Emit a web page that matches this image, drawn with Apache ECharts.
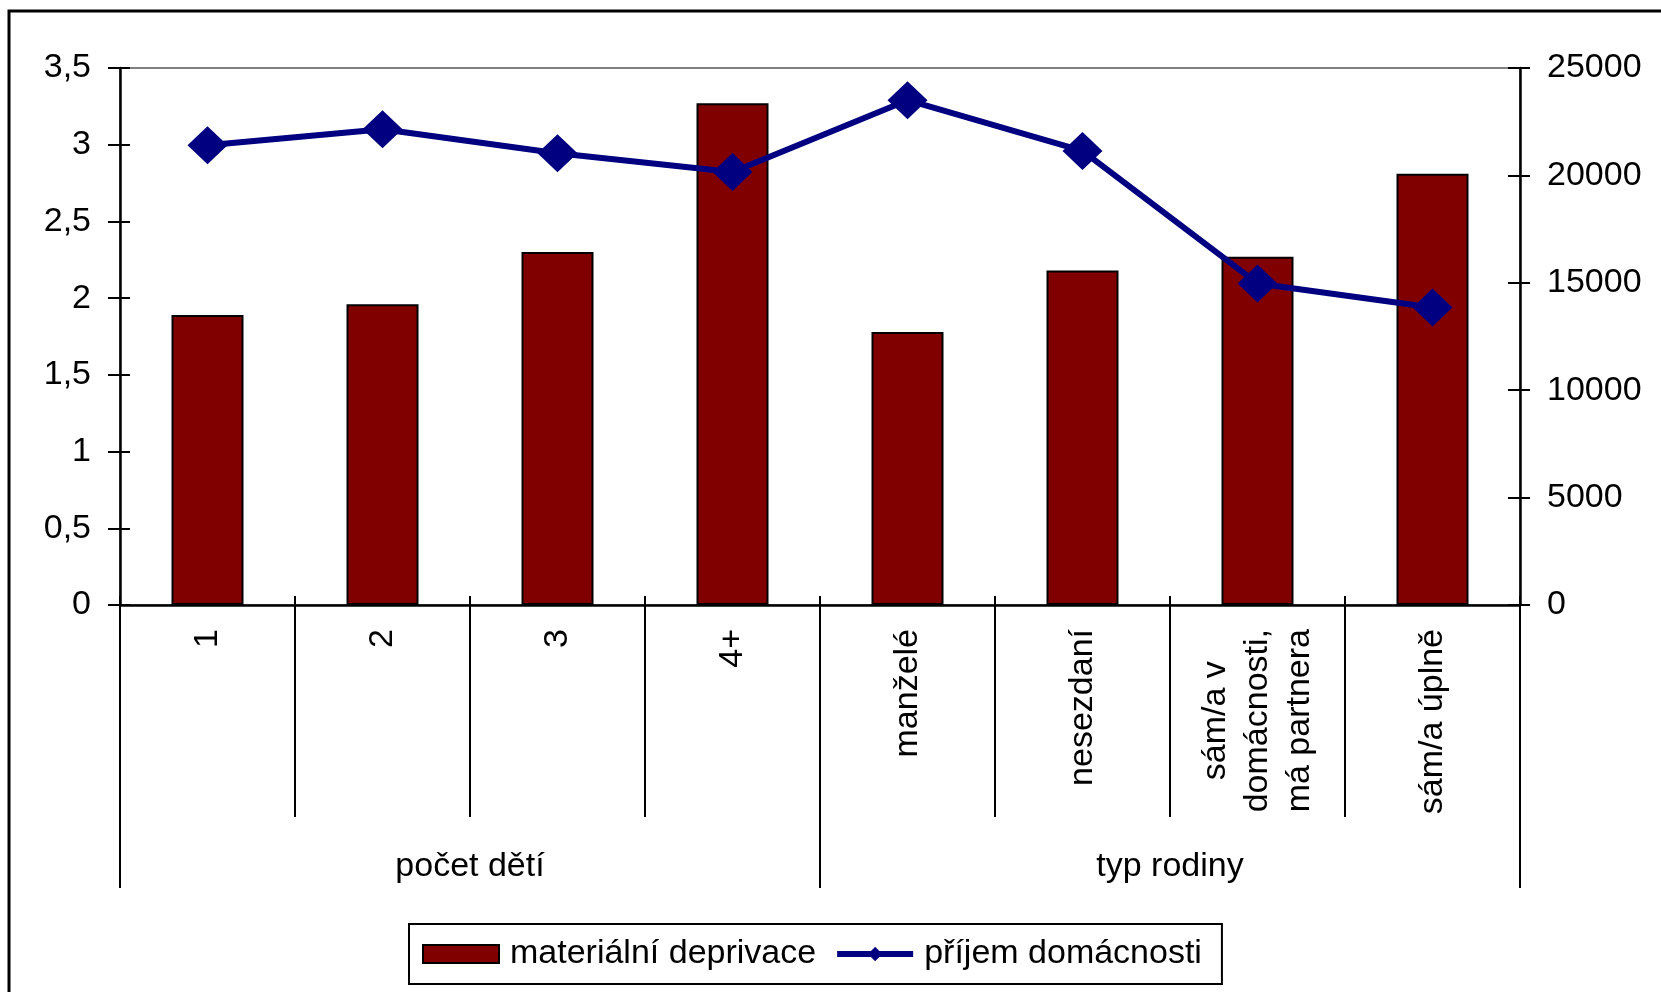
<!DOCTYPE html>
<html>
<head>
<meta charset="utf-8">
<script src="https://cdn.jsdelivr.net/npm/echarts@6/dist/echarts.min.js"></script>
<style>
html,body{margin:0;padding:0;background:#fff;}
#chart{width:1661px;height:992px;}
</style>
</head>
<body>
<div id="chart"></div>
<script>
const categories = ['1', '2', '3', '4+', 'manželé', 'nesezdaní', 'sám/a v\ndomácnosti,\nmá partnera', 'sám/a úplně'];
const groups = ['počet dětí', 'typ rodiny'];
const deprivace = [1.89, 1.96, 2.30, 3.27, 1.78, 2.18, 2.27, 2.81];
const prijem = [21400, 22150, 21030, 20160, 23500, 21140, 14970, 13850];
const leftTicks = [0, 0.5, 1, 1.5, 2, 2.5, 3, 3.5];
const rightTicks = [0, 5000, 10000, 15000, 20000, 25000];
const seriesNames = ['materiální deprivace', 'příjem domácnosti'];

const FONT = '"Liberation Sans", Arial, sans-serif';
const FS = 34;
const chart = echarts.init(document.getElementById('chart'), null, {renderer: 'canvas'});

const leftRange = {min: leftTicks[0], max: leftTicks[leftTicks.length - 1], interval: leftTicks[1] - leftTicks[0]};
const rightRange = {min: rightTicks[0], max: rightTicks[rightTicks.length - 1], interval: rightTicks[1] - rightTicks[0]};

const option = {
  animation: false,
  backgroundColor: '#fff',
  textStyle: {fontFamily: FONT, color: '#000'},
  graphic: [{
    type: 'rect',
    shape: {x: 9, y: 11, width: 1720, height: 1040},
    style: {fill: 'none', stroke: '#000', lineWidth: 3},
    silent: true
  }],
  grid: {
    left: 120, right: 141, top: 68, bottom: 387,
    show: true, borderColor: '#808080', borderWidth: 2, backgroundColor: 'transparent'
  },
  legend: {
    left: 409, top: 924,
    data: [
      {name: seriesNames[0], icon: 'rect', itemStyle: {color: '#800000', borderColor: '#000', borderWidth: 2}},
      {name: seriesNames[1], lineStyle: {color: '#000080', width: 6}, itemStyle: {color: '#000080'}}
    ],
    orient: 'horizontal',
    padding: [13, 20, 13, 13],
    borderColor: '#000', borderWidth: 2,
    itemWidth: 76, itemHeight: 18, itemGap: 18,
    textStyle: {fontSize: FS, fontFamily: FONT, color: '#000', padding: [0, 0, 0, 6]}
  },
  xAxis: [{
    type: 'category',
    data: categories,
    position: 'bottom',
    boundaryGap: true,
    axisLine: {show: true, lineStyle: {color: '#000', width: 2.5}},
    axisTick: {show: true, interval: 0, length: 212, lineStyle: {color: '#000', width: 2}},
    axisLabel: {
      interval: 0, rotate: 90, margin: 24, color: '#000',
      fontSize: FS, fontFamily: FONT,
      formatter: v => v.split('\n').map(s => '{c|' + s + '}').join('\n'),
      rich: {c: {fontSize: FS, fontFamily: FONT, color: '#000', align: 'center', lineHeight: 42}}
    },
    splitLine: {show: false}
  }, {
    type: 'category',
    data: groups,
    position: 'bottom',
    boundaryGap: true,
    axisLine: {show: false},
    axisTick: {show: true, interval: 0, length: 283, lineStyle: {color: '#000', width: 2}},
    axisLabel: {interval: 0, margin: 245, fontSize: FS, fontFamily: FONT, color: '#000'},
    splitLine: {show: false}
  }, {
    type: 'category',
    data: categories,
    position: 'bottom',
    boundaryGap: true,
    axisLine: {show: false},
    axisTick: {show: true, inside: true, interval: 0, length: 9, lineStyle: {color: '#000', width: 2}},
    axisLabel: {show: false},
    splitLine: {show: false}
  }],
  yAxis: [{
    type: 'value', position: 'left',
    min: leftRange.min, max: leftRange.max, interval: leftRange.interval,
    axisLine: {show: true, lineStyle: {color: '#000', width: 2.5}},
    axisTick: {show: true, length: 12, lineStyle: {color: '#000', width: 2}},
    axisLabel: {margin: 29, fontSize: FS, fontFamily: FONT, color: '#000',
      formatter: v => String(v).replace('.', ',')},
    splitLine: {show: false}
  }, {
    type: 'value', position: 'right',
    min: rightRange.min, max: rightRange.max, interval: rightRange.interval,
    axisLine: {show: true, lineStyle: {color: '#000', width: 2.5}},
    axisTick: {show: true, length: 10, lineStyle: {color: '#000', width: 2}},
    axisLabel: {margin: 27, fontSize: FS, fontFamily: FONT, color: '#000',
      formatter: v => String(v)},
    splitLine: {show: false}
  }, {
    type: 'value', position: 'left',
    min: leftRange.min, max: leftRange.max, interval: leftRange.interval,
    axisLine: {show: false},
    axisTick: {show: true, inside: true, length: 10, lineStyle: {color: '#000', width: 2}},
    axisLabel: {show: false},
    splitLine: {show: false}
  }, {
    type: 'value', position: 'right',
    min: rightRange.min, max: rightRange.max, interval: rightRange.interval,
    axisLine: {show: false},
    axisTick: {show: true, inside: true, length: 12, lineStyle: {color: '#000', width: 2}},
    axisLabel: {show: false},
    splitLine: {show: false}
  }],
  series: [{
    name: seriesNames[0],
    type: 'bar',
    xAxisIndex: 0, yAxisIndex: 0,
    data: deprivace,
    barWidth: 72,
    itemStyle: {color: '#800000', borderColor: '#000', borderWidth: 2},
    z: 2
  }, {
    name: seriesNames[1],
    type: 'line',
    xAxisIndex: 0, yAxisIndex: 1,
    data: prijem,
    symbol: 'diamond',
    symbolSize: [40, 38],
    lineStyle: {color: '#000080', width: 6},
    itemStyle: {color: '#000080'},
    z: 3
  }]
};
chart.setOption(option);
</script>
</body>
</html>
